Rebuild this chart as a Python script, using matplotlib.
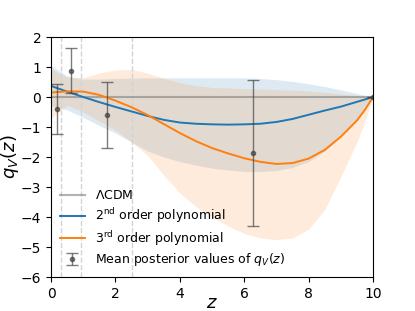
import numpy as np
import matplotlib.pyplot as plt

# values
z_grid = [0.0, 0.5, 1.0, 1.5, 2.0, 2.5, 3.0, 3.5, 4.0, 4.5, 5.0,
          5.5, 6.0, 6.5, 7.0, 7.5, 8.0, 8.5, 9.0, 9.5, 9.75, 10.0]

q_poly2 = [0.37, 0.18, 0.0, -0.17, -0.33, -0.48, -0.63, -0.76, -0.85, -0.89, -0.91,
           -0.92, -0.91, -0.89, -0.83, -0.73, -0.59, -0.45, -0.32, -0.16, -0.08, 0.0]
q_poly2_lo = [-0.30, -0.43, -0.68, -0.95, -1.20, -1.50, -1.80, -2.00, -2.15, -2.27, -2.37,
              -2.43, -2.48, -2.48, -2.45, -2.35, -2.15, -1.80, -1.30, -0.75, -0.40, 0.0]
q_poly2_hi = [1.05, 0.70, 0.60, 0.60, 0.62, 0.63, 0.64, 0.64, 0.64, 0.64, 0.64,
              0.64, 0.64, 0.62, 0.58, 0.52, 0.44, 0.35, 0.24, 0.12, 0.06, 0.0]

q_poly3 = [0.15, 0.19, 0.18, 0.07, -0.12, -0.34, -0.60, -0.90, -1.20, -1.47, -1.70,
           -1.88, -2.04, -2.16, -2.23, -2.20, -2.05, -1.76, -1.32, -0.78, -0.42, 0.0]
q_poly3_lo = [-0.70, -0.27, -0.50, -0.80, -1.10, -1.50, -1.95, -2.60, -3.20, -3.65, -4.00,
              -4.30, -4.55, -4.70, -4.75, -4.70, -4.40, -3.75, -2.65, -1.50, -0.80, 0.0]
q_poly3_hi = [0.95, 0.65, 0.65, 0.80, 0.90, 0.92, 0.80, 0.62, 0.48, 0.38, 0.32,
              0.30, 0.28, 0.27, 0.25, 0.23, 0.20, 0.16, 0.10, 0.05, 0.02, 0.0]

# mean posterior values in redshift bins
z_bins = [0.18, 0.62, 1.73, 6.26, 10.0]
q_mean = [-0.41, 0.88, -0.61, -1.86, 0.0]
q_err = [0.83, 0.74, 1.10, 2.44, 0.0]

bin_edges = [0.32, 0.92, 2.52]

fig = plt.figure(figsize=(4.15, 3.11), dpi=100)
ax = fig.add_axes([0.123, 0.109, 0.776, 0.772])

for zb in bin_edges:
    ax.axvline(zb, color='lightgray', ls='--', lw=1)

ax.axhline(0, color='gray', alpha=0.6, lw=1.5, label=r'$\Lambda$CDM')

ax.fill_between(z_grid, q_poly2_lo, q_poly2_hi, color='C0', alpha=0.15, lw=0)
ax.fill_between(z_grid, q_poly3_lo, q_poly3_hi, color='C1', alpha=0.15, lw=0)

ax.plot(z_grid, q_poly2, color='C0', lw=1.4, label=r'2$^{\rm nd}$ order polynomial')
ax.plot(z_grid, q_poly3, color='C1', lw=1.4, label=r'3$^{\rm rd}$ order polynomial')

ax.errorbar(z_bins, q_mean, yerr=q_err, fmt='o', color='#444444', alpha=0.7,
            ms=3, capsize=4, elinewidth=1, label=r'Mean posterior values of $q_V(z)$')

ax.set_xlim(0, 10)
ax.set_ylim(-6, 2)
ax.set_xlabel(r'$z$', fontsize=13, labelpad=-5)
ax.set_ylabel(r'$q_V(z)$', fontsize=13, labelpad=0)
ax.tick_params(labelsize=10)
ax.legend(loc='lower left', frameon=False, fontsize=9, labelspacing=0.3,
          borderaxespad=0.3)

fig.savefig('out.png', dpi=100)
